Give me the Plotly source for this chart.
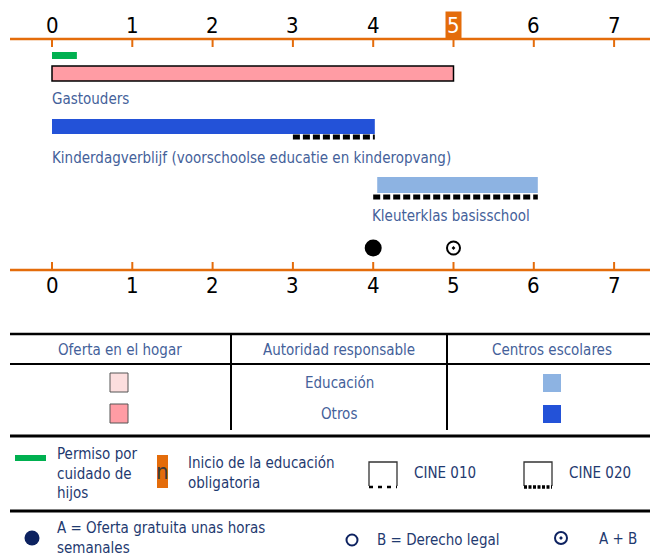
import plotly.graph_objects as go

# Daten: Alter (Jahre)
ages = [0, 1, 2, 3, 4, 5, 6, 7]
compulsory_age = 5

leave_start, leave_end = 0, 0.31
home_start, home_end = 0, 5
home_label = "Gastouders"
centre_start, centre_end = 0, 4.02
centre_label = "Kinderdagverblijf (voorschoolse educatie en kinderopvang)"
centre_isced020 = [3, 4.02]
school_start, school_end = 4.05, 6.05
school_label = "Kleuterklas basisschool"
school_isced020 = [4, 6.05]
free_hours_age = 4
free_plus_right_age = 5

ORANGE = "#E46C0A"
PINK = "#FF9CA4"
LIGHTPINK = "#FCDEDE"
BLUE = "#2352D8"
LIGHTBLUE = "#8DB3E2"
GREEN = "#00B050"
NAVY = "#0D2260"
LABEL = "#44619A"
LEG = "#1F3A70"
FONT = "Liberation Sans Narrow, DejaVu Sans Condensed, Arial Narrow, sans-serif"

# Pixelskala: Alter 0 bei x=52, 80.3 px pro Jahr
px0, pxy = 52, 80.3
xr = [(0 - px0) / pxy, (650 - px0) / pxy]

fig = go.Figure()

def hbar(start, end, yc, h, color, line=None):
    fig.add_trace(go.Bar(orientation="h", base=[start], x=[end - start], y=[yc], width=h,
                         marker=dict(color=color, line=line or dict(width=0)),
                         showlegend=False, hoverinfo="skip"))

hbar(leave_start, leave_end, 55.5, 7, GREEN)
hbar(home_start, home_end, 73.5, 15, PINK, dict(color="black", width=1.5))
hbar(centre_start, centre_end, 126.5, 15, BLUE)
hbar(school_start, school_end, 185, 16, LIGHTBLUE)

for seg, yy in [(centre_isced020, 137), (school_isced020, 197)]:
    fig.add_trace(go.Scatter(x=seg, y=[yy, yy], mode="lines",
                             line=dict(color="black", width=5, dash="7px,3px"),
                             showlegend=False, hoverinfo="skip"))

fig.add_trace(go.Scatter(x=[free_hours_age], y=[248], mode="markers",
                         marker=dict(color="black", size=17), showlegend=False))
fig.add_trace(go.Scatter(x=[free_plus_right_age], y=[248], mode="markers",
                         marker=dict(symbol="circle-open-dot", color="black", size=13,
                                     line=dict(width=2)), showlegend=False))

shapes = []
annotations = []

# Achsen oben und unten
for ly, t0, t1, ty in [(39, 39, 47, 25), (270, 262, 270, 285)]:
    shapes.append(dict(type="line", xref="paper", yref="y", x0=10 / 650, x1=1, y0=ly, y1=ly,
                       line=dict(color=ORANGE, width=2.5)))
    for a in ages:
        shapes.append(dict(type="line", xref="x", yref="y", x0=a, x1=a, y0=t0, y1=t1,
                           line=dict(color=ORANGE, width=2)))
        hl = (ly == 39 and a == compulsory_age)
        annotations.append(dict(x=a, y=ty, xref="x", yref="y", text=str(a), showarrow=False,
                                font=dict(family=FONT, size=22, color="white" if hl else "black"),
                                bgcolor=ORANGE if hl else None, borderpad=1))

for txt, xx, yy in [(home_label, home_start, 99), (centre_label, centre_start, 158),
                    (school_label, 3.98, 216)]:
    annotations.append(dict(x=xx, y=yy, xref="x", yref="y", text=txt, showarrow=False,
                            xanchor="left", xshift=-2,
                            font=dict(family=FONT, size=15, color=LABEL)))

# Tabelle / Legende (Pixelkoordinaten auf x2)
def hline(y, w):
    shapes.append(dict(type="line", xref="x2", yref="y", x0=10, x1=650, y0=y, y1=y,
                       line=dict(color="black", width=w)))

hline(334, 2.5)
hline(364, 2)
hline(436, 3)
hline(511, 3)
for vx in [231, 447]:
    shapes.append(dict(type="line", xref="x2", yref="y", x0=vx, x1=vx, y0=334, y1=430,
                       line=dict(color="black", width=2)))

def txt(x, y, s, anchor="center", size=15, color=LEG):
    annotations.append(dict(x=x, y=y, xref="x2", yref="y", text=s, showarrow=False,
                            xanchor=anchor, align="left",
                            font=dict(family=FONT, size=size, color=color)))

txt(120, 350, "Oferta en el hogar", color=LABEL)
txt(339, 350, "Autoridad responsable", color=LABEL)
txt(552, 350, "Centros escolares", color=LABEL)
txt(339, 383, "Educación", color=LABEL)
txt(339, 414, "Otros", color=LABEL)

def rect(x0, y0, x1, y1, fill, lw=0, lc="black"):
    shapes.append(dict(type="rect", xref="x2", yref="y", x0=x0, x1=x1, y0=y0, y1=y1,
                       fillcolor=fill, line=dict(color=lc, width=lw)))

rect(110, 373, 128, 392, LIGHTPINK, 1, "#555555")
rect(110, 404, 128, 423, PINK, 1, "#555555")
rect(543, 374, 561, 392, LIGHTBLUE)
rect(543, 405, 561, 423, BLUE)

rect(15, 455, 46, 461, GREEN)
txt(55, 473, "Permiso por<br>cuidado de<br>hijos", anchor="left")
rect(157, 455, 168, 488, ORANGE)
txt(162.5, 471, "n", size=22, color="#3A3A3A")
txt(186, 473, "Inicio de la educación<br>obligatoria", anchor="left")

# CINE 010 / 020 Symbole
for x0, dash, lw, txt_s in [(369, "4px,5px", 2.5, "CINE 010"), (524, "3px,1.5px", 3.5, "CINE 020")]:
    shapes.append(dict(type="path", xref="x2", yref="y",
                       path=f"M {x0},486 L {x0},462 L {x0 + 28},462 L {x0 + 28},486",
                       line=dict(color="#333333", width=1.3)))
    shapes.append(dict(type="line", xref="x2", yref="y", x0=x0, x1=x0 + 28, y0=487, y1=487,
                       line=dict(color="black", width=lw, dash=dash)))
    txt(x0 + 43, 473, txt_s, anchor="left")

fig.add_trace(go.Scatter(x=[32], y=[538], xaxis="x2", mode="markers",
                         marker=dict(color=NAVY, size=15), showlegend=False))
txt(55, 538, "A = Oferta gratuita unas horas<br>semanales", anchor="left")
fig.add_trace(go.Scatter(x=[352], y=[540], xaxis="x2", mode="markers",
                         marker=dict(symbol="circle-open", color=NAVY, size=11, line=dict(width=2)),
                         showlegend=False))
txt(375, 540, "B = Derecho legal", anchor="left")
fig.add_trace(go.Scatter(x=[561], y=[538], xaxis="x2", mode="markers",
                         marker=dict(symbol="circle-open-dot", color=NAVY, size=12, line=dict(width=2)),
                         showlegend=False))
txt(597, 539, "A + B", anchor="left")

fig.update_layout(
    width=650, height=557, margin=dict(l=0, r=0, t=0, b=0),
    plot_bgcolor="white", paper_bgcolor="white",
    barmode="overlay",
    xaxis=dict(range=xr, visible=False, fixedrange=True),
    xaxis2=dict(range=[0, 650], visible=False, overlaying="x"),
    yaxis=dict(range=[557, 0], visible=False),
    shapes=shapes, annotations=annotations,
    font=dict(family=FONT),
)
fig.write_html("out.html", config={"displayModeBar": False},
               post_script="document.body.style.margin='0';")
